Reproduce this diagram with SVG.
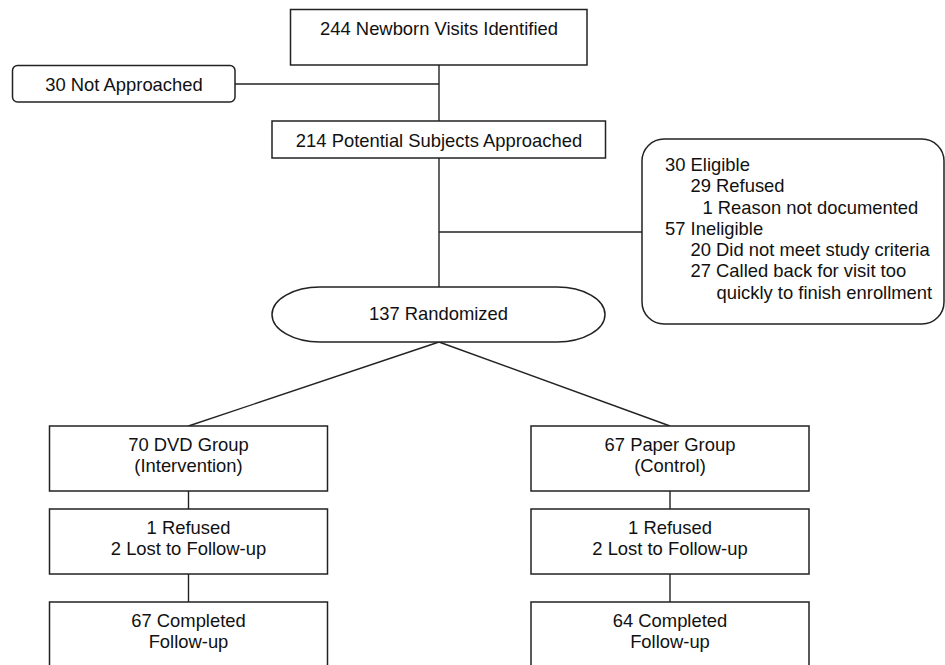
<svg xmlns="http://www.w3.org/2000/svg" width="945" height="665" viewBox="0 0 945 665">
<style>
.box{fill:#fff;stroke:#222;stroke-width:1.5}
.ln{fill:none;stroke:#222;stroke-width:1.4}
text{font-family:"Liberation Sans",Arial,sans-serif;font-size:18.4px;fill:#111}
.c{text-anchor:middle}
</style>
<rect width="945" height="665" fill="#fff"/>
<g id="connectors">
<line class="ln" x1="439" y1="65" x2="439" y2="121"/>
<line class="ln" x1="235" y1="84" x2="439" y2="84"/>
<line class="ln" x1="439" y1="158" x2="439" y2="287"/>
<line class="ln" x1="439" y1="232" x2="642" y2="232"/>
<line class="ln" x1="439" y1="342" x2="188.5" y2="426"/>
<line class="ln" x1="439" y1="342" x2="670" y2="426"/>
<line class="ln" x1="188.5" y1="491" x2="188.5" y2="509"/>
<line class="ln" x1="188.5" y1="574" x2="188.5" y2="602"/>
<line class="ln" x1="670" y1="491" x2="670" y2="509"/>
<line class="ln" x1="670" y1="574" x2="670" y2="602"/>
</g>
<g id="identified">
<rect class="box" x="290.5" y="9.5" width="296.5" height="55.5"/>
<text class="c" x="439" y="35">244 Newborn Visits Identified</text>
</g>
<g id="not-approached">
<rect class="box" x="12.5" y="65.5" width="222.5" height="36.5" rx="5"/>
<text class="c" x="124" y="91">30 Not Approached</text>
</g>
<g id="approached">
<rect class="box" x="272" y="121" width="333.5" height="37"/>
<text class="c" x="439" y="147">214 Potential Subjects Approached</text>
</g>
<g id="excluded">
<rect class="box" x="642" y="139" width="302" height="185" rx="22"/>
<text x="665" y="171">30 Eligible</text>
<text x="690.5" y="192">29 Refused</text>
<text x="702.5" y="213.5">1 Reason not documented</text>
<text x="665" y="234.5">57 Ineligible</text>
<text x="690.5" y="256">20 Did not meet study criteria</text>
<text x="690.5" y="277">27 Called back for visit too</text>
<text x="716.5" y="298.5">quickly to finish enrollment</text>
</g>
<g id="randomized">
<rect class="box" x="272" y="287" width="333" height="55" rx="48" ry="27.5"/>
<text class="c" x="438.5" y="320">137 Randomized</text>
</g>
<g id="dvd-group">
<rect class="box" x="49.5" y="426" width="278" height="65"/>
<text class="c" x="188.5" y="451">70 DVD Group</text>
<text class="c" x="188.5" y="472">(Intervention)</text>
</g>
<g id="dvd-lost">
<rect class="box" x="49.5" y="509" width="278" height="65"/>
<text class="c" x="188.5" y="534">1 Refused</text>
<text class="c" x="188.5" y="555">2 Lost to Follow-up</text>
</g>
<g id="dvd-completed">
<rect class="box" x="49.5" y="602" width="278" height="80"/>
<text class="c" x="188.5" y="627">67 Completed</text>
<text class="c" x="188.5" y="648">Follow-up</text>
</g>
<g id="paper-group">
<rect class="box" x="531" y="426" width="278" height="65"/>
<text class="c" x="670" y="451">67 Paper Group</text>
<text class="c" x="670" y="472">(Control)</text>
</g>
<g id="paper-lost">
<rect class="box" x="531" y="509" width="278" height="65"/>
<text class="c" x="670" y="534">1 Refused</text>
<text class="c" x="670" y="555">2 Lost to Follow-up</text>
</g>
<g id="paper-completed">
<rect class="box" x="531" y="602" width="278" height="80"/>
<text class="c" x="670" y="627">64 Completed</text>
<text class="c" x="670" y="648">Follow-up</text>
</g>
</svg>
